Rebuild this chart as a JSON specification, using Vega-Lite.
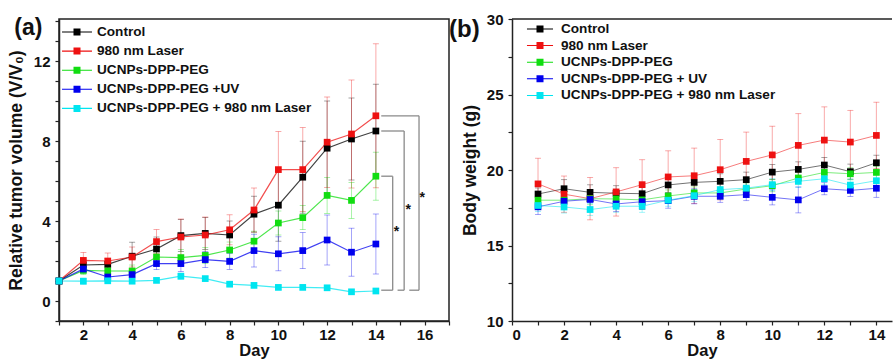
{
  "$schema": "https://vega.github.io/schema/vega-lite/v6.json",
  "padding": {"left": 6, "top": 12, "right": 0, "bottom": 0},
  "autosize": {"type": "pad"},
  "bounds": "flush",
  "spacing": 63,
  "datasets": {
    "tumor": [
      {"day": 1, "group": "Control", "v": 1.0, "err": 0},
      {"day": 2, "group": "Control", "v": 1.8, "err": 0.3},
      {"day": 3, "group": "Control", "v": 1.83, "err": 0.3},
      {"day": 4, "group": "Control", "v": 2.24, "err": 0.7},
      {"day": 5, "group": "Control", "v": 2.6, "err": 0.6},
      {"day": 6, "group": "Control", "v": 3.27, "err": 0.8},
      {"day": 7, "group": "Control", "v": 3.38, "err": 0.8},
      {"day": 8, "group": "Control", "v": 3.3, "err": 0.7},
      {"day": 9, "group": "Control", "v": 4.34, "err": 0.9},
      {"day": 10, "group": "Control", "v": 4.79, "err": 1.8},
      {"day": 11, "group": "Control", "v": 6.19, "err": 1.8},
      {"day": 12, "group": "Control", "v": 7.64, "err": 2.36},
      {"day": 13, "group": "Control", "v": 8.1, "err": 2.05},
      {"day": 14, "group": "Control", "v": 8.5, "err": 2.34},
      {"day": 1, "group": "980 nm Laser", "v": 1.0, "err": 0},
      {"day": 2, "group": "980 nm Laser", "v": 2.03, "err": 0.4},
      {"day": 3, "group": "980 nm Laser", "v": 2.0, "err": 0.4},
      {"day": 4, "group": "980 nm Laser", "v": 2.2, "err": 0.5},
      {"day": 5, "group": "980 nm Laser", "v": 2.97, "err": 0.6},
      {"day": 6, "group": "980 nm Laser", "v": 3.2, "err": 0.9},
      {"day": 7, "group": "980 nm Laser", "v": 3.3, "err": 0.9},
      {"day": 8, "group": "980 nm Laser", "v": 3.56, "err": 0.75},
      {"day": 9, "group": "980 nm Laser", "v": 4.55, "err": 1.1},
      {"day": 10, "group": "980 nm Laser", "v": 6.57, "err": 1.9},
      {"day": 11, "group": "980 nm Laser", "v": 6.57, "err": 2.1},
      {"day": 12, "group": "980 nm Laser", "v": 7.94, "err": 2.26},
      {"day": 13, "group": "980 nm Laser", "v": 8.35, "err": 2.7},
      {"day": 14, "group": "980 nm Laser", "v": 9.26, "err": 3.6},
      {"day": 1, "group": "UCNPs-DPP-PEG", "v": 1.0, "err": 0},
      {"day": 2, "group": "UCNPs-DPP-PEG", "v": 1.53, "err": 0.2},
      {"day": 3, "group": "UCNPs-DPP-PEG", "v": 1.5, "err": 0.2},
      {"day": 4, "group": "UCNPs-DPP-PEG", "v": 1.5, "err": 0.3},
      {"day": 5, "group": "UCNPs-DPP-PEG", "v": 2.2, "err": 0.4},
      {"day": 6, "group": "UCNPs-DPP-PEG", "v": 2.17, "err": 0.4},
      {"day": 7, "group": "UCNPs-DPP-PEG", "v": 2.28, "err": 0.4},
      {"day": 8, "group": "UCNPs-DPP-PEG", "v": 2.55, "err": 0.4},
      {"day": 9, "group": "UCNPs-DPP-PEG", "v": 2.99, "err": 0.5},
      {"day": 10, "group": "UCNPs-DPP-PEG", "v": 3.9, "err": 0.6},
      {"day": 11, "group": "UCNPs-DPP-PEG", "v": 4.17, "err": 0.6},
      {"day": 12, "group": "UCNPs-DPP-PEG", "v": 5.28, "err": 0.9},
      {"day": 13, "group": "UCNPs-DPP-PEG", "v": 5.03, "err": 0.9},
      {"day": 14, "group": "UCNPs-DPP-PEG", "v": 6.24, "err": 1.2},
      {"day": 1, "group": "UCNPs-DPP-PEG +UV", "v": 1.0, "err": 0},
      {"day": 2, "group": "UCNPs-DPP-PEG +UV", "v": 1.6, "err": 0.2},
      {"day": 3, "group": "UCNPs-DPP-PEG +UV", "v": 1.2, "err": 0.2},
      {"day": 4, "group": "UCNPs-DPP-PEG +UV", "v": 1.32, "err": 0.2},
      {"day": 5, "group": "UCNPs-DPP-PEG +UV", "v": 1.87, "err": 0.3},
      {"day": 6, "group": "UCNPs-DPP-PEG +UV", "v": 1.87, "err": 0.4},
      {"day": 7, "group": "UCNPs-DPP-PEG +UV", "v": 2.07, "err": 0.4},
      {"day": 8, "group": "UCNPs-DPP-PEG +UV", "v": 1.98, "err": 0.4},
      {"day": 9, "group": "UCNPs-DPP-PEG +UV", "v": 2.52, "err": 0.82},
      {"day": 10, "group": "UCNPs-DPP-PEG +UV", "v": 2.36, "err": 0.85},
      {"day": 11, "group": "UCNPs-DPP-PEG +UV", "v": 2.52, "err": 0.9},
      {"day": 12, "group": "UCNPs-DPP-PEG +UV", "v": 3.05, "err": 1.25},
      {"day": 13, "group": "UCNPs-DPP-PEG +UV", "v": 2.44, "err": 1.2},
      {"day": 14, "group": "UCNPs-DPP-PEG +UV", "v": 2.85, "err": 1.5},
      {"day": 1, "group": "UCNPs-DPP-PEG + 980 nm Laser", "v": 1.0, "err": 0},
      {"day": 2, "group": "UCNPs-DPP-PEG + 980 nm Laser", "v": 0.99, "err": 0.15},
      {"day": 3, "group": "UCNPs-DPP-PEG + 980 nm Laser", "v": 1.01, "err": 0.1},
      {"day": 4, "group": "UCNPs-DPP-PEG + 980 nm Laser", "v": 0.99, "err": 0.1},
      {"day": 5, "group": "UCNPs-DPP-PEG + 980 nm Laser", "v": 1.03, "err": 0.1},
      {"day": 6, "group": "UCNPs-DPP-PEG + 980 nm Laser", "v": 1.24, "err": 0.15},
      {"day": 7, "group": "UCNPs-DPP-PEG + 980 nm Laser", "v": 1.12, "err": 0.1},
      {"day": 8, "group": "UCNPs-DPP-PEG + 980 nm Laser", "v": 0.84, "err": 0.1},
      {"day": 9, "group": "UCNPs-DPP-PEG + 980 nm Laser", "v": 0.78, "err": 0.1},
      {"day": 10, "group": "UCNPs-DPP-PEG + 980 nm Laser", "v": 0.68, "err": 0.1},
      {"day": 11, "group": "UCNPs-DPP-PEG + 980 nm Laser", "v": 0.68, "err": 0.1},
      {"day": 12, "group": "UCNPs-DPP-PEG + 980 nm Laser", "v": 0.66, "err": 0.1},
      {"day": 13, "group": "UCNPs-DPP-PEG + 980 nm Laser", "v": 0.46, "err": 0.1},
      {"day": 14, "group": "UCNPs-DPP-PEG + 980 nm Laser", "v": 0.5, "err": 0.1}
    ],
    "weight": [
      {"day": 1, "group": "Control", "v": 18.41, "err": 0.4},
      {"day": 2, "group": "Control", "v": 18.76, "err": 0.6},
      {"day": 3, "group": "Control", "v": 18.52, "err": 0.5},
      {"day": 4, "group": "Control", "v": 18.46, "err": 0.5},
      {"day": 5, "group": "Control", "v": 18.43, "err": 0.5},
      {"day": 6, "group": "Control", "v": 19.01, "err": 0.5},
      {"day": 7, "group": "Control", "v": 19.18, "err": 0.5},
      {"day": 8, "group": "Control", "v": 19.25, "err": 0.5},
      {"day": 9, "group": "Control", "v": 19.36, "err": 0.5},
      {"day": 10, "group": "Control", "v": 19.86, "err": 0.5},
      {"day": 11, "group": "Control", "v": 20.04, "err": 0.5},
      {"day": 12, "group": "Control", "v": 20.33, "err": 0.5},
      {"day": 13, "group": "Control", "v": 19.89, "err": 0.5},
      {"day": 14, "group": "Control", "v": 20.48, "err": 0.5},
      {"day": 1, "group": "980 nm Laser", "v": 19.08, "err": 1.7},
      {"day": 2, "group": "980 nm Laser", "v": 18.4, "err": 1.2},
      {"day": 3, "group": "980 nm Laser", "v": 18.1, "err": 1.4},
      {"day": 4, "group": "980 nm Laser", "v": 18.55, "err": 1.6},
      {"day": 5, "group": "980 nm Laser", "v": 19.03, "err": 1.65},
      {"day": 6, "group": "980 nm Laser", "v": 19.54, "err": 1.73},
      {"day": 7, "group": "980 nm Laser", "v": 19.62, "err": 1.83},
      {"day": 8, "group": "980 nm Laser", "v": 20.02, "err": 2.0},
      {"day": 9, "group": "980 nm Laser", "v": 20.57, "err": 1.94},
      {"day": 10, "group": "980 nm Laser", "v": 21.0, "err": 1.9},
      {"day": 11, "group": "980 nm Laser", "v": 21.63, "err": 2.1},
      {"day": 12, "group": "980 nm Laser", "v": 21.98, "err": 2.2},
      {"day": 13, "group": "980 nm Laser", "v": 21.85, "err": 2.1},
      {"day": 14, "group": "980 nm Laser", "v": 22.29, "err": 2.2},
      {"day": 1, "group": "UCNPs-DPP-PEG", "v": 18.0, "err": 0.4},
      {"day": 2, "group": "UCNPs-DPP-PEG", "v": 18.0, "err": 0.4},
      {"day": 3, "group": "UCNPs-DPP-PEG", "v": 18.1, "err": 0.4},
      {"day": 4, "group": "UCNPs-DPP-PEG", "v": 18.08, "err": 0.4},
      {"day": 5, "group": "UCNPs-DPP-PEG", "v": 18.02, "err": 0.4},
      {"day": 6, "group": "UCNPs-DPP-PEG", "v": 18.28, "err": 0.4},
      {"day": 7, "group": "UCNPs-DPP-PEG", "v": 18.48, "err": 0.4},
      {"day": 8, "group": "UCNPs-DPP-PEG", "v": 18.48, "err": 0.4},
      {"day": 9, "group": "UCNPs-DPP-PEG", "v": 18.74, "err": 0.4},
      {"day": 10, "group": "UCNPs-DPP-PEG", "v": 18.96, "err": 0.4},
      {"day": 11, "group": "UCNPs-DPP-PEG", "v": 19.47, "err": 0.4},
      {"day": 12, "group": "UCNPs-DPP-PEG", "v": 19.84, "err": 0.4},
      {"day": 13, "group": "UCNPs-DPP-PEG", "v": 19.75, "err": 0.4},
      {"day": 14, "group": "UCNPs-DPP-PEG", "v": 19.84, "err": 0.4},
      {"day": 1, "group": "UCNPs-DPP-PEG + UV", "v": 17.56, "err": 0.5},
      {"day": 2, "group": "UCNPs-DPP-PEG + UV", "v": 17.93, "err": 0.5},
      {"day": 3, "group": "UCNPs-DPP-PEG + UV", "v": 18.05, "err": 0.5},
      {"day": 4, "group": "UCNPs-DPP-PEG + UV", "v": 17.75, "err": 0.5},
      {"day": 5, "group": "UCNPs-DPP-PEG + UV", "v": 17.9, "err": 0.5},
      {"day": 6, "group": "UCNPs-DPP-PEG + UV", "v": 17.97, "err": 0.5},
      {"day": 7, "group": "UCNPs-DPP-PEG + UV", "v": 18.26, "err": 0.5},
      {"day": 8, "group": "UCNPs-DPP-PEG + UV", "v": 18.26, "err": 0.4},
      {"day": 9, "group": "UCNPs-DPP-PEG + UV", "v": 18.37, "err": 0.4},
      {"day": 10, "group": "UCNPs-DPP-PEG + UV", "v": 18.19, "err": 0.5},
      {"day": 11, "group": "UCNPs-DPP-PEG + UV", "v": 18.02, "err": 0.86},
      {"day": 12, "group": "UCNPs-DPP-PEG + UV", "v": 18.76, "err": 0.4},
      {"day": 13, "group": "UCNPs-DPP-PEG + UV", "v": 18.65, "err": 0.4},
      {"day": 14, "group": "UCNPs-DPP-PEG + UV", "v": 18.79, "err": 0.6},
      {"day": 1, "group": "UCNPs-DPP-PEG + 980 nm Laser", "v": 17.65, "err": 0.4},
      {"day": 2, "group": "UCNPs-DPP-PEG + 980 nm Laser", "v": 17.55, "err": 0.4},
      {"day": 3, "group": "UCNPs-DPP-PEG + 980 nm Laser", "v": 17.38, "err": 0.4},
      {"day": 4, "group": "UCNPs-DPP-PEG + 980 nm Laser", "v": 17.6, "err": 0.4},
      {"day": 5, "group": "UCNPs-DPP-PEG + 980 nm Laser", "v": 17.6, "err": 0.4},
      {"day": 6, "group": "UCNPs-DPP-PEG + 980 nm Laser", "v": 18.0, "err": 0.4},
      {"day": 7, "group": "UCNPs-DPP-PEG + 980 nm Laser", "v": 18.3, "err": 0.4},
      {"day": 8, "group": "UCNPs-DPP-PEG + 980 nm Laser", "v": 18.7, "err": 0.4},
      {"day": 9, "group": "UCNPs-DPP-PEG + 980 nm Laser", "v": 18.8, "err": 0.4},
      {"day": 10, "group": "UCNPs-DPP-PEG + 980 nm Laser", "v": 19.03, "err": 0.4},
      {"day": 11, "group": "UCNPs-DPP-PEG + 980 nm Laser", "v": 19.25, "err": 0.4},
      {"day": 12, "group": "UCNPs-DPP-PEG + 980 nm Laser", "v": 19.42, "err": 0.4},
      {"day": 13, "group": "UCNPs-DPP-PEG + 980 nm Laser", "v": 19.0, "err": 0.4},
      {"day": 14, "group": "UCNPs-DPP-PEG + 980 nm Laser", "v": 19.29, "err": 0.4}
    ],
    "brackets": [
      {"day": 14.22, "day2": 14.69, "v": 6.24, "v2": 6.24},
      {"day": 14.22, "day2": 14.69, "v": 0.54, "v2": 0.54},
      {"day": 14.69, "day2": 14.69, "v": 0.54, "v2": 6.24},
      {"day": 14.22, "day2": 15.16, "v": 8.5, "v2": 8.5},
      {"day": 14.89, "day2": 15.16, "v": 0.54, "v2": 0.54},
      {"day": 15.16, "day2": 15.16, "v": 0.54, "v2": 8.5},
      {"day": 14.22, "day2": 15.77, "v": 9.26, "v2": 9.26},
      {"day": 15.37, "day2": 15.77, "v": 0.54, "v2": 0.54},
      {"day": 15.77, "day2": 15.77, "v": 0.54, "v2": 9.26}
    ],
    "stars": [
      {"day": 14.84, "v": 3.6, "t": "*"},
      {"day": 15.33, "v": 4.7, "t": "*"},
      {"day": 15.9, "v": 5.3, "t": "*"}
    ],
    "frameB": [
      {"day": 0, "day2": 14.6, "v": 30, "v2": 30}
    ]
  },
  "hconcat": [
    {
      "width": 390,
      "height": 302,
      "encoding": {
        "x": {"field": "day", "type": "quantitative", "scale": {"domain": [1, 17], "nice": false, "zero": false},
          "axis": {"title": "Day", "values": [1,2,3,4,5,6,7,8,9,10,11,12,13,14,15,16,17], "labelExpr": "datum.value % 2 == 0 ? datum.label : ''", "labelPadding": 2, "titlePadding": 0}},
        "y": {"field": "v", "type": "quantitative", "scale": {"domain": [-1, 14.1], "nice": false, "zero": false},
          "axis": {"title": "Relative tumor volume (V/V₀)", "titleFontSize": 17.5, "values": [-1,0,1,2,3,4,5,6,7,8,9,10,11,12,13,14], "labelExpr": "datum.value % 4 == 0 ? datum.label : ''", "labelPadding": 5, "titlePadding": 8}}
      },
      "layer": [
        {
          "data": {"name": "tumor"},
          "mark": {"type": "errorbar", "ticks": true, "size": 6, "thickness": 0.8, "opacity": 0.45},
          "encoding": {
            "yError": {"field": "err"},
            "color": {"field": "group", "type": "nominal", "legend": null,
              "scale": {"domain": ["UCNPs-DPP-PEG + 980 nm Laser", "UCNPs-DPP-PEG +UV", "UCNPs-DPP-PEG", "980 nm Laser", "Control"], "range": ["#00e5f0", "#0000ee", "#11dd11", "#ee1111", "#000000"]}}
          }
        },
        {
          "data": {"name": "tumor"},
          "mark": {"type": "line", "strokeWidth": 1.2, "opacity": 0.75},
          "encoding": {
            "stroke": {"field": "group", "type": "nominal", "legend": null,
              "scale": {"domain": ["980 nm Laser", "Control", "UCNPs-DPP-PEG", "UCNPs-DPP-PEG +UV", "UCNPs-DPP-PEG + 980 nm Laser"], "range": ["#ee1111", "#000000", "#11dd11", "#0000ee", "#00e5f0"]}}
          }
        },
        {
          "data": {"name": "tumor"},
          "mark": {"type": "point", "shape": "square", "filled": true, "size": 45, "opacity": 1, "strokeWidth": 0},
          "encoding": {
            "fill": {"field": "group", "type": "nominal",
              "scale": {"domain": ["Control", "980 nm Laser", "UCNPs-DPP-PEG", "UCNPs-DPP-PEG +UV", "UCNPs-DPP-PEG + 980 nm Laser"], "range": ["#000000", "#ee1111", "#11dd11", "#0000ee", "#00e5f0"]},
              "legend": {"title": null, "orient": "none", "legendX": 11, "legendY": 6, "padding": 0,
                "symbolType": "M-2.14,-0.08H2.14V0.08H-2.14Z M-0.5,-0.5H0.5V0.5H-0.5Z", "symbolSize": 196, "symbolStrokeWidth": 0, "symbolOpacity": 1,
                "labelFontSize": 13.6, "labelFontWeight": "bold", "labelColor": "#111", "labelOffset": 13, "labelLimit": 0, "rowPadding": 5.1}}
          }
        },
        {
          "data": {"name": "brackets"},
          "mark": {"type": "rule", "color": "#8a8a8a", "strokeWidth": 1.3},
          "encoding": {
            "x2": {"field": "day2"},
            "y2": {"field": "v2"}
          }
        },
        {
          "data": {"name": "stars"},
          "mark": {"type": "text", "fontSize": 14, "fontWeight": "bold", "baseline": "middle", "dy": 3, "color": "#111"},
          "encoding": {
            "text": {"field": "t"}
          }
        },
        {
          "data": {"values": [{"label": "(a)", "day": -0.26, "v": 13.65}]},
          "mark": {"type": "text", "fontSize": 23, "fontWeight": "bold", "baseline": "middle", "align": "center", "color": "#111"},
          "encoding": {
            "text": {"field": "label"}
          }
        }
      ]
    },
    {
      "width": 380,
      "height": 302,
      "view": {"stroke": null},
      "encoding": {
        "x": {"field": "day", "type": "quantitative", "scale": {"domain": [0, 14.6], "nice": false, "zero": false},
          "axis": {"title": "Day", "values": [0,1,2,3,4,5,6,7,8,9,10,11,12,13,14], "labelExpr": "datum.value % 2 == 0 ? datum.label : ''", "labelPadding": 2, "titlePadding": 0}},
        "y": {"field": "v", "type": "quantitative", "scale": {"domain": [10, 30], "nice": false, "zero": false},
          "axis": {"title": "Body weight (g)", "titleFontSize": 17.5, "values": [10, 12.5, 15, 17.5, 20, 22.5, 25, 27.5, 30], "labelExpr": "datum.value % 5 == 0 ? datum.label : ''", "labelPadding": 5, "titlePadding": 7}}
      },
      "layer": [
        {
          "data": {"name": "frameB"},
          "mark": {"type": "rule", "color": "#222", "strokeWidth": 1.5},
          "encoding": {
            "x2": {"field": "day2"},
            "y2": {"field": "v2"}
          }
        },
        {
          "data": {"name": "weight"},
          "mark": {"type": "errorbar", "ticks": true, "size": 6, "thickness": 0.8, "opacity": 0.45},
          "encoding": {
            "yError": {"field": "err"},
            "color": {"field": "group", "type": "nominal", "legend": null,
              "scale": {"domain": ["UCNPs-DPP-PEG + 980 nm Laser", "UCNPs-DPP-PEG + UV", "UCNPs-DPP-PEG", "980 nm Laser", "Control"], "range": ["#00e5f0", "#0000ee", "#11dd11", "#ee1111", "#000000"]}}
          }
        },
        {
          "data": {"name": "weight"},
          "mark": {"type": "line", "strokeWidth": 1, "opacity": 0.55},
          "encoding": {
            "stroke": {"field": "group", "type": "nominal", "legend": null,
              "scale": {"domain": ["980 nm Laser", "Control", "UCNPs-DPP-PEG", "UCNPs-DPP-PEG + UV", "UCNPs-DPP-PEG + 980 nm Laser"], "range": ["#ee1111", "#000000", "#11dd11", "#0000ee", "#00e5f0"]}}
          }
        },
        {
          "data": {"name": "weight"},
          "mark": {"type": "point", "shape": "square", "filled": true, "size": 45, "opacity": 1, "strokeWidth": 0},
          "encoding": {
            "fill": {"field": "group", "type": "nominal",
              "scale": {"domain": ["Control", "980 nm Laser", "UCNPs-DPP-PEG", "UCNPs-DPP-PEG + UV", "UCNPs-DPP-PEG + 980 nm Laser"], "range": ["#000000", "#ee1111", "#11dd11", "#0000ee", "#00e5f0"]},
              "legend": {"title": null, "orient": "none", "legendX": 21, "legendY": 3, "padding": 0,
                "symbolType": "M-1.86,-0.07H1.86V0.07H-1.86Z M-0.5,-0.5H0.5V0.5H-0.5Z", "symbolSize": 196, "symbolStrokeWidth": 0, "symbolOpacity": 1,
                "labelFontSize": 13.6, "labelFontWeight": "bold", "labelColor": "#111", "labelOffset": 14, "labelLimit": 0, "rowPadding": 2.6}}
          }
        },
        {
          "data": {"values": [{"label": "(b)", "day": -1.83, "v": 29.27}]},
          "mark": {"type": "text", "fontSize": 24, "fontWeight": "bold", "baseline": "middle", "align": "center", "color": "#111"},
          "encoding": {
            "text": {"field": "label"}
          }
        }
      ]
    }
  ],
  "resolve": {"scale": {"color": "independent", "fill": "independent", "stroke": "independent"}, "legend": {"color": "independent", "fill": "independent", "stroke": "independent"}},
  "config": {
    "font": "Liberation Sans",
    "view": {"stroke": "#222", "strokeWidth": 1.5},
    "axis": {"grid": false, "domainColor": "#222", "domainWidth": 1.5, "tickColor": "#222", "tickWidth": 1.2, "tickSize": 4,
      "labelFont": "Liberation Sans", "labelFontSize": 15, "labelFontWeight": "bold", "labelColor": "#111",
      "titleFont": "Liberation Sans", "titleFontSize": 16.5, "titleFontWeight": "bold", "titleColor": "#111"},
    "legend": {"labelFont": "Liberation Sans"}
  }
}
